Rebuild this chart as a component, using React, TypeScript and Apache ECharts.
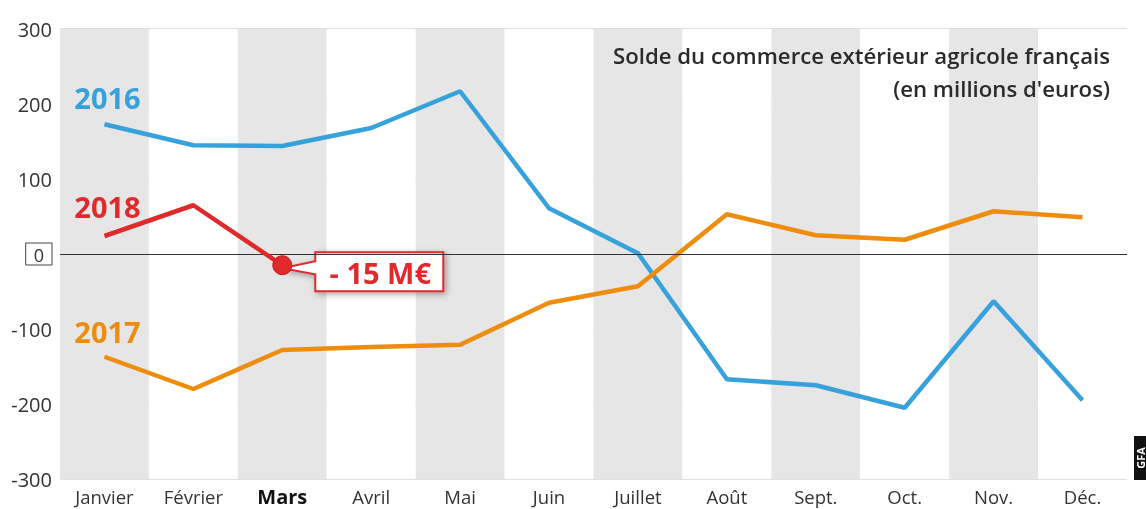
import React, { useEffect, useRef } from "react";
import * as echarts from "echarts";

const months = ["Janvier", "Février", "Mars", "Avril", "Mai", "Juin", "Juillet", "Août", "Sept.", "Oct.", "Nov.", "Déc."];
const values2016 = [173, 145, 144, 168, 217, 61, 1, -167, -175, -205, -63, -195];
const values2017 = [-137, -180, -128, -124, -121, -65, -43, 53, 25, 19, 57, 49];
const values2018 = [24, 65, -15];
const yTicks = { min: -300, max: 300, interval: 100 };
const calloutText = "- 15 M€";
const titleText = "Solde du commerce extérieur agricole français\n(en millions d'euros)";

const BLUE = "#36a1da";
const ORANGE = "#ee8c0c";
const RED = "#e0292a";
const FONT = "Open Sans";

function yearMark(vals: number[], label: string, color: string, dist: number) {
  return {
    symbol: "circle",
    symbolSize: 1,
    itemStyle: { color: "rgba(0,0,0,0)" },
    silent: true,
    data: [
      {
        coord: [0, vals[0]],
        label: {
          show: true,
          position: "top",
          distance: dist,
          offset: [3, 0],
          formatter: label,
          color,
          fontSize: 29,
          fontWeight: "bold",
          fontFamily: FONT,
        },
      },
    ],
  };
}

export default function App() {
  const ref = useRef<HTMLDivElement>(null);
  useEffect(() => {
    const chart = echarts.init(ref.current!, undefined, { renderer: "svg" });
    const lastIdx = values2018.length - 1;
    chart.setOption({
      animation: false,
      grid: { left: 60, right: 19, top: 29, bottom: 30, show: false },
      xAxis: {
        type: "category",
        data: months.map((m) =>
          m === "Mars" ? { value: m, textStyle: { fontWeight: "bold", color: "#111", fontSize: 20 } } : m
        ),
        boundaryGap: true,
        axisLine: { show: false },
        axisTick: { show: false },
        axisLabel: { color: "#333", fontSize: 18.5, fontFamily: FONT, margin: 8, lineHeight: 18 },
        splitArea: { show: true, areaStyle: { color: ["#e6e6e6", "#ffffff"] } },
        splitLine: { show: false },
      },
      yAxis: {
        type: "value",
        min: yTicks.min,
        max: yTicks.max,
        interval: yTicks.interval,
        axisLine: { show: false },
        axisTick: { show: false },
        axisLabel: {
          color: "#333",
          fontSize: 20,
          fontFamily: FONT,
          margin: 8,
          formatter: (v: number) => (v === 0 ? "{box|0}" : String(v)),
          rich: {
            box: {
              fontSize: 18,
              fontFamily: FONT,
              color: "#333",
              borderColor: "#444",
              borderWidth: 1,
              padding: [3, 8, 1, 8],
            },
          },
        },
        splitLine: { show: true, lineStyle: { color: "#d6d6d6", width: 1.5 } },
      },
      series: [
        {
          type: "line",
          data: [],
          z: 1,
          markLine: {
            silent: true,
            symbol: "none",
            label: { show: false },
            lineStyle: { color: "#333", width: 1.2, type: "solid" },
            data: [{ yAxis: 0 }],
          },
        },
        {
          type: "line",
          data: values2016,
          symbol: "none",
          lineStyle: { color: BLUE, width: 4.5 },
          itemStyle: { color: BLUE },
          markPoint: yearMark(values2016, "2016", BLUE, 12),
          z: 2,
        },
        {
          type: "line",
          data: values2017,
          symbol: "none",
          lineStyle: { color: ORANGE, width: 4.5 },
          itemStyle: { color: ORANGE },
          markPoint: yearMark(values2017, "2017", ORANGE, 10),
          z: 2,
        },
        {
          type: "line",
          data: values2018.map((v, i) =>
            i === lastIdx
              ? { value: v, symbol: "circle", symbolSize: 19, itemStyle: { color: RED, borderColor: "#c81e20", borderWidth: 1 } }
              : v
          ),
          symbol: "none",
          lineStyle: { color: RED, width: 4.5 },
          itemStyle: { color: RED },
          markPoint: yearMark(values2018, "2018", RED, 15),
          z: 6,
        },
      ],
    });

    const p = chart.convertToPixel({ seriesIndex: 3 }, [lastIdx, values2018[lastIdx]]) as number[];
    const bx = p[0] + 33;
    const by = p[1] - 13;
    const bw = 128;
    const bh = 39;
    chart.setOption({
      graphic: [
        {
          type: "polygon",
          z: 4,
          shape: {
            points: [
              [p[0], p[1] + 3],
              [bx, by + 9],
              [bx, by],
              [bx + bw, by],
              [bx + bw, by + bh],
              [bx, by + bh],
              [bx, by + 22],
            ],
          },
          style: {
            fill: "#fff",
            stroke: RED,
            lineWidth: 2,
            shadowBlur: 6,
            shadowOffsetX: 2,
            shadowOffsetY: 2,
            shadowColor: "rgba(0,0,0,0.35)",
          },
        },
        {
          type: "text",
          z: 5,
          x: bx + bw / 2 + 1,
          y: by + bh / 2 + 1,
          style: {
            text: calloutText,
            fill: RED,
            font: `bold 29px '${FONT}'`,
            textAlign: "center",
            textVerticalAlign: "middle",
          },
        },
        {
          type: "text",
          z: 5,
          x: 1110,
          y: 39,
          style: {
            text: titleText,
            fill: "#2b2b2b",
            font: `600 22.2px '${FONT}'`,
            textAlign: "right",
            lineHeight: 33,
          },
        },
        {
          type: "rect",
          z: 5,
          shape: { x: 1134, y: 436, width: 12, height: 44 },
          style: { fill: "#111" },
        },
        {
          type: "text",
          z: 6,
          x: 1140,
          y: 458,
          rotation: Math.PI / 2,
          style: {
            text: "GFA",
            fill: "#fff",
            font: `bold 11px '${FONT}'`,
            textAlign: "center",
            textVerticalAlign: "middle",
          },
        },
      ],
    });
    return () => chart.dispose();
  }, []);
  return <div ref={ref} style={{ position: "fixed", left: 0, top: 0, width: 1146, height: 509 }} />;
}
